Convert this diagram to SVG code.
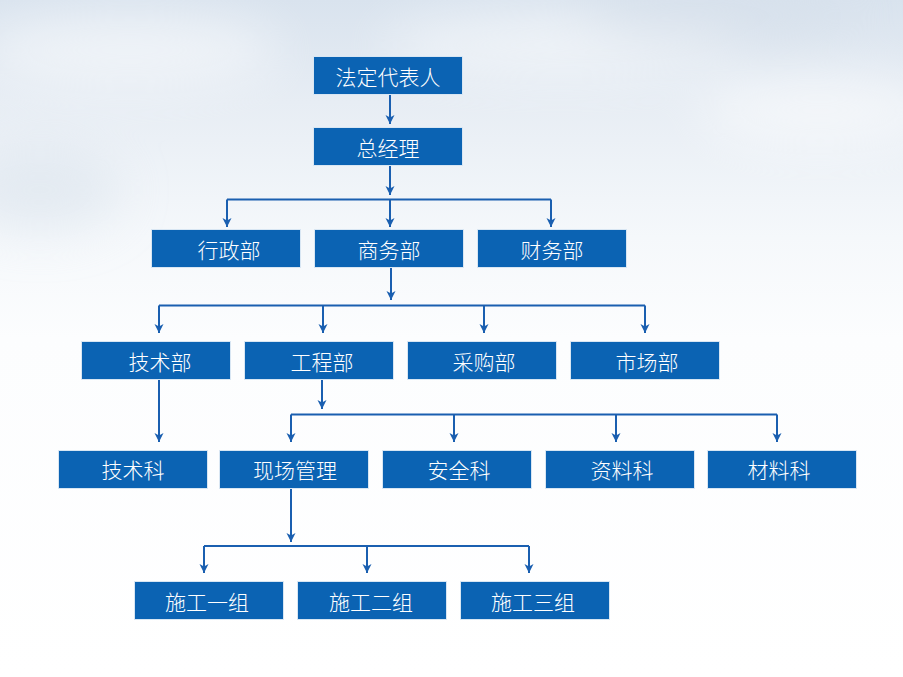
<svg xmlns="http://www.w3.org/2000/svg" width="903" height="677" viewBox="0 0 903 677">
  <defs>
    <linearGradient id="sky" x1="0" y1="0" x2="0" y2="677" gradientUnits="userSpaceOnUse">
      <stop offset="0" stop-color="#d9e3ee"/>
      <stop offset="0.15" stop-color="#e7edf4"/>
      <stop offset="0.35" stop-color="#f5f8fb"/>
      <stop offset="0.5" stop-color="#fcfdfe"/>
      <stop offset="1" stop-color="#ffffff"/>
    </linearGradient>
    <filter id="blur" x="-50%" y="-50%" width="200%" height="200%">
      <feGaussianBlur stdDeviation="25"/>
    </filter>
    <marker id="arr" markerUnits="userSpaceOnUse" markerWidth="12" markerHeight="12" viewBox="0 0 12 12" refX="10" refY="6" orient="auto">
      <path d="M1,1.5 L10,6 L1,10.5 L3.5,6 Z" fill="#1a5fb0"/>
    </marker>
    <style>
      .box rect { fill: #0b63b3; stroke: #d8e6f3; stroke-width: 1; }
      .box text { fill: #ffffff; font-family: "Noto Sans CJK SC", "Noto Sans", sans-serif; font-size: 21px; font-weight: 300; text-anchor: middle; dominant-baseline: central; }
      .c path { fill: none; stroke: #1a5fb0; stroke-width: 2; }
      .c path.a { marker-end: url(#arr); }
    </style>
  </defs>

  <rect x="0" y="0" width="903" height="677" fill="url(#sky)"/>
  <g filter="url(#blur)" opacity="0.5">
    <ellipse cx="130" cy="50" rx="150" ry="35" fill="#ffffff"/>
    <ellipse cx="560" cy="45" rx="180" ry="30" fill="#ffffff"/>
    <ellipse cx="820" cy="110" rx="120" ry="35" fill="#ffffff"/>
    <ellipse cx="40" cy="190" rx="80" ry="40" fill="#d6e0ea"/>
    <ellipse cx="720" cy="15" rx="140" ry="25" fill="#d3dde8"/>
  </g>

  <g id="connectors" class="c">
    <path class="a" d="M390,95 V124"/>
    <path class="a" d="M390,166 V195"/>
    <path d="M227,199.5 H551"/>
    <path class="a" d="M227,199.5 V227"/>
    <path class="a" d="M390,199.5 V227"/>
    <path class="a" d="M551,199.5 V227"/>

    <path class="a" d="M391,268 V300"/>
    <path d="M159,305.5 H645"/>
    <path class="a" d="M159,305.5 V333"/>
    <path class="a" d="M323,305.5 V333"/>
    <path class="a" d="M484,305.5 V333"/>
    <path class="a" d="M645,305.5 V333"/>

    <path class="a" d="M159,380 V442"/>

    <path class="a" d="M322,380 V409"/>
    <path d="M291,414.5 H777"/>
    <path class="a" d="M291,414.5 V442"/>
    <path class="a" d="M454,414.5 V442"/>
    <path class="a" d="M616,414.5 V442"/>
    <path class="a" d="M777,414.5 V442"/>

    <path class="a" d="M291,489 V542"/>
    <path d="M204,546 H529"/>
    <path class="a" d="M204,546 V573"/>
    <path class="a" d="M367,546 V573"/>
    <path class="a" d="M529,546 V573"/>
  </g>

  <g id="n-fddbr" class="box"><rect x="313.5" y="56.5" width="149" height="38"/><text x="388" y="76">法定代表人</text></g>
  <g id="n-zjl" class="box"><rect x="313.5" y="127.5" width="149" height="38"/><text x="388" y="147">总经理</text></g>

  <g id="n-xzb" class="box"><rect x="151.5" y="229.5" width="149" height="38"/><text x="229" y="249">行政部</text></g>
  <g id="n-swb" class="box"><rect x="314.5" y="229.5" width="149" height="38"/><text x="389" y="249">商务部</text></g>
  <g id="n-cwb" class="box"><rect x="477.5" y="229.5" width="149" height="38"/><text x="552" y="249">财务部</text></g>

  <g id="n-jsb" class="box"><rect x="81.5" y="341.5" width="149" height="38"/><text x="160" y="361">技术部</text></g>
  <g id="n-gcb" class="box"><rect x="244.5" y="341.5" width="149" height="38"/><text x="322" y="361">工程部</text></g>
  <g id="n-cgb" class="box"><rect x="407.5" y="341.5" width="149" height="38"/><text x="484" y="361">采购部</text></g>
  <g id="n-scb" class="box"><rect x="570.5" y="341.5" width="149" height="38"/><text x="647" y="361">市场部</text></g>

  <g id="n-jsk" class="box"><rect x="58.5" y="450.5" width="149" height="38"/><text x="133" y="469">技术科</text></g>
  <g id="n-xcgl" class="box"><rect x="219.5" y="450.5" width="149" height="38"/><text x="295" y="469">现场管理</text></g>
  <g id="n-aqk" class="box"><rect x="382.5" y="450.5" width="149" height="38"/><text x="459" y="469">安全科</text></g>
  <g id="n-zlk" class="box"><rect x="545.5" y="450.5" width="149" height="38"/><text x="622" y="469">资料科</text></g>
  <g id="n-clk" class="box"><rect x="707.5" y="450.5" width="149" height="38"/><text x="779" y="469">材料科</text></g>

  <g id="n-sg1" class="box"><rect x="134.5" y="581.5" width="149" height="38"/><text x="207" y="601">施工一组</text></g>
  <g id="n-sg2" class="box"><rect x="297.5" y="581.5" width="149" height="38"/><text x="371" y="601">施工二组</text></g>
  <g id="n-sg3" class="box"><rect x="460.5" y="581.5" width="149" height="38"/><text x="533" y="601">施工三组</text></g>
</svg>
